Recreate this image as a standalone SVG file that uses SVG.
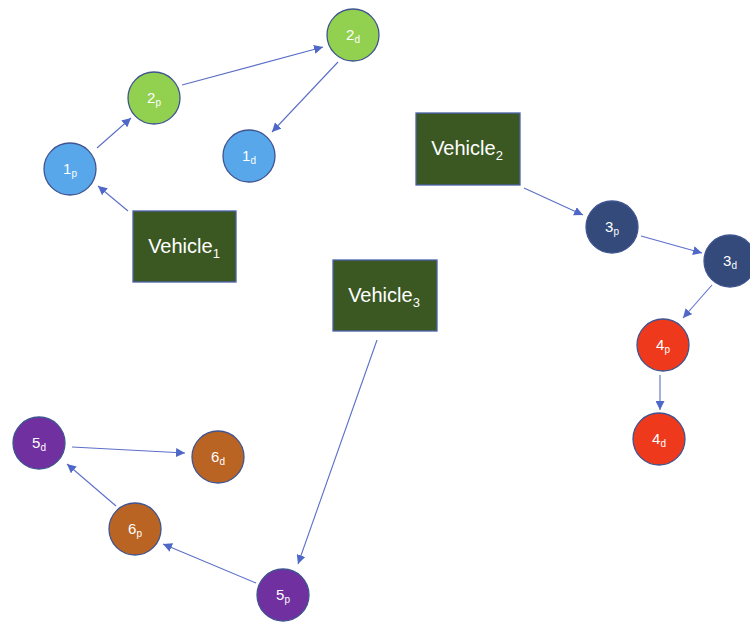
<svg xmlns="http://www.w3.org/2000/svg" width="750" height="623" viewBox="0 0 750 623">
<style>
.c{stroke:#3F5490;stroke-width:1.3}
.box{fill:#3B5823;stroke:#4A62A8;stroke-width:1.3}
.t{fill:#fff;font-family:"Liberation Sans",Arial,sans-serif;text-anchor:middle}
.n{font-size:15px}
.v{font-size:20px}
.e{stroke:#5B6FC8;stroke-width:1.1;fill:none;marker-end:url(#a)}
</style>
<defs>
<marker id="a" viewBox="0 0 10 10" refX="10" refY="5" markerWidth="9" markerHeight="9" markerUnits="userSpaceOnUse" orient="auto">
<path d="M0,0 L10,5 L0,10 z" fill="#4F68C8"/>
</marker>
</defs>
<rect width="750" height="623" fill="#fff"/>
<g id="connectors">
<line class="e" x1="128" y1="211" x2="98" y2="186"/>
<line class="e" x1="97" y1="148" x2="131" y2="118"/>
<line class="e" x1="182" y1="85" x2="323" y2="47"/>
<line class="e" x1="338" y1="62" x2="272" y2="132"/>
<line class="e" x1="524" y1="188" x2="583" y2="215"/>
<line class="e" x1="641" y1="236" x2="702" y2="253"/>
<line class="e" x1="712" y1="285" x2="683" y2="318"/>
<line class="e" x1="660" y1="375" x2="660" y2="410"/>
<line class="e" x1="377" y1="340" x2="298" y2="564"/>
<line class="e" x1="256" y1="583" x2="163" y2="544"/>
<line class="e" x1="116" y1="506" x2="67" y2="464"/>
<line class="e" x1="72" y1="447" x2="185" y2="453"/>
</g>
<g id="vehicle1"><rect class="box" x="133" y="211" width="103" height="71"/><text class="t v" x="184" y="253">Vehicle<tspan font-size="13" dy="5">1</tspan></text></g>
<g id="vehicle2"><rect class="box" x="416" y="113" width="104" height="72"/><text class="t v" x="467" y="155">Vehicle<tspan font-size="13" dy="5">2</tspan></text></g>
<g id="vehicle3"><rect class="box" x="333" y="260" width="104" height="71"/><text class="t v" x="384" y="302">Vehicle<tspan font-size="13" dy="5">3</tspan></text></g>
<g id="n1p"><circle class="c" cx="70" cy="169" r="26" fill="#57A7EA"/><text class="t n" x="70" y="174">1<tspan font-size="10" dy="3">p</tspan></text></g>
<g id="n1d"><circle class="c" cx="249" cy="156" r="26" fill="#57A7EA"/><text class="t n" x="249" y="161">1<tspan font-size="10" dy="3">d</tspan></text></g>
<g id="n2p"><circle class="c" cx="154" cy="98" r="26" fill="#92D050"/><text class="t n" x="154" y="103">2<tspan font-size="10" dy="3">p</tspan></text></g>
<g id="n2d"><circle class="c" cx="353" cy="35" r="26" fill="#92D050"/><text class="t n" x="353" y="40">2<tspan font-size="10" dy="3">d</tspan></text></g>
<g id="n3p"><circle class="c" cx="612" cy="227" r="26" fill="#334A7A"/><text class="t n" x="612" y="232">3<tspan font-size="10" dy="3">p</tspan></text></g>
<g id="n3d"><circle class="c" cx="730" cy="261" r="26" fill="#334A7A"/><text class="t n" x="730" y="266">3<tspan font-size="10" dy="3">d</tspan></text></g>
<g id="n4p"><circle class="c" cx="663" cy="345" r="26" fill="#EE391D"/><text class="t n" x="663" y="350">4<tspan font-size="10" dy="3">p</tspan></text></g>
<g id="n4d"><circle class="c" cx="659" cy="439" r="26" fill="#EE391D"/><text class="t n" x="659" y="444">4<tspan font-size="10" dy="3">d</tspan></text></g>
<g id="n5d"><circle class="c" cx="39" cy="443" r="26" fill="#7030A0"/><text class="t n" x="39" y="448">5<tspan font-size="10" dy="3">d</tspan></text></g>
<g id="n5p"><circle class="c" cx="283" cy="595" r="26" fill="#7030A0"/><text class="t n" x="283" y="600">5<tspan font-size="10" dy="3">p</tspan></text></g>
<g id="n6d"><circle class="c" cx="218" cy="457" r="26" fill="#BA6424"/><text class="t n" x="218" y="462">6<tspan font-size="10" dy="3">d</tspan></text></g>
<g id="n6p"><circle class="c" cx="135" cy="529" r="26" fill="#BA6424"/><text class="t n" x="135" y="534">6<tspan font-size="10" dy="3">p</tspan></text></g>
</svg>
